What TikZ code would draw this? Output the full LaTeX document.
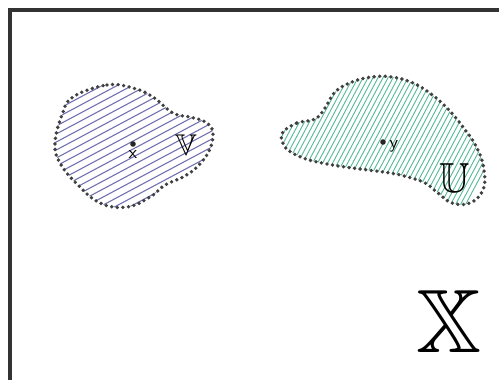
\documentclass[tikz,border=0pt]{standalone}
\usepackage{amssymb}
\usepackage{tikz}
\usetikzlibrary{positioning}
\definecolor{vhatch}{HTML}{7272B0}
\definecolor{uhatch}{HTML}{55B898}
\definecolor{framegray}{HTML}{333333}
\begin{document}
\begin{tikzpicture}[x=0.5pt,y=-0.5pt,
  blob/.style={line width=1.9pt,dash pattern=on 0pt off 2.8pt,line cap=round,draw=black!75},
  vline/.style={vhatch,line width=0.55pt},
  uline/.style={uhatch,line width=0.45pt},
  pt/.style={circle,fill=black!85,inner sep=0pt,minimum size=2.8pt},
  lbl/.style={inner sep=0pt,font=\sffamily\small}]
\useasboundingbox (0,0) rectangle (499,380);
\clip (0,0) rectangle (499,380);
% frame
\draw[framegray,line width=2pt] (10,9.5) rectangle (540,420);
% set V
\path[save path=\vpath] plot[smooth cycle,tension=0.7] coordinates {(73,97) (107,85) (133,88) (153,97) (173,113) (190,117) (207,123) (213,134) (209,151) (197,167) (183,177) (165,185) (150,197) (127,207) (100,203) (77,184) (60,163) (55,143) (62,115)};
\begin{scope}
  \clip[use path=\vpath];
  \foreach \k in {0,...,30}
    \draw[vline] (45,100+8*\k) -- ++(180,-96);
\end{scope}
\draw[blob,use path=\vpath];
% set U
\path[save path=\upath] plot[smooth cycle,tension=0.7] coordinates {(283,132) (297,123) (315,119) (325,108) (335,92) (352,82) (372,77) (392,77) (413,83) (431,94) (447,108) (463,127) (477,148) (484,170) (483,190) (470,203) (452,203) (438,193) (425,183) (408,177) (390,173) (368,170) (345,167) (322,163) (303,158) (288,150) (282,141)};
\begin{scope}
  \clip[use path=\upath];
  \foreach \k in {0,...,50}
    \draw[uline] (210+5*\k,215) -- ++(75,-141);
\end{scope}
\draw[blob,use path=\upath];
% points and labels
\node[pt] (px) at (133,144) {};
\node[lbl,below=1.5pt of px] (xlab) {x};
\node[pt] (py) at (383,142) {};
\node[lbl,right=1.5pt of py,yshift=-2pt] (ylab) {y};
\node[inner sep=0pt,font=\fontsize{15}{15}\selectfont] (vname) at (186,145) {$\mathbb{V}$};
\node[inner sep=0pt,font=\fontsize{21}{21}\selectfont] (uname) at (455,178) {$\mathbb{U}$};
\node[inner sep=0pt,font=\fontsize{45}{45}\selectfont] (xname) at (449,321) {$\mathbb{X}$};
\end{tikzpicture}
\end{document}
